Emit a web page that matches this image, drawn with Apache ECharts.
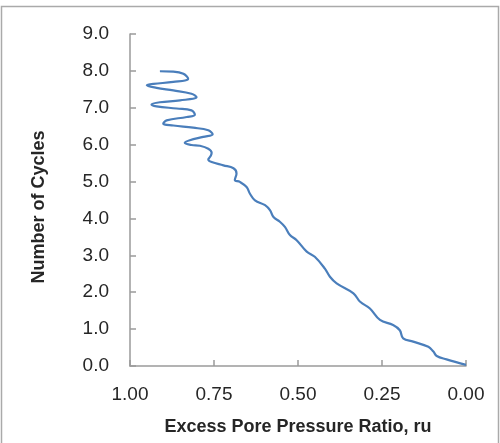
<!DOCTYPE html>
<html>
<head>
<meta charset="utf-8">
<script src="https://cdn.jsdelivr.net/npm/echarts@6/dist/echarts.min.js"></script>
<style>html,body{margin:0;padding:0;background:#fff;}#c{width:500px;height:443px;}</style>
</head>
<body>
<div id="c"></div>
<script>
// Excess pore pressure ratio (ru) values along the curve
var ruValues = [0.000,0.058,0.087,0.097,0.112,0.157,0.187,0.197,0.217,0.256,0.286,0.315,0.335,0.385,0.405,0.420,0.450,0.474,0.504,0.524,0.539,0.554,0.573,0.583,0.598,0.628,0.643,0.653,0.673,0.688,0.683,0.692,0.722,0.757,0.767,0.760,0.757,0.767,0.792,0.817,0.837,0.822,0.782,0.754,0.767,0.812,0.871,0.901,0.891,0.831,0.807,0.817,0.861,0.921,0.936,0.911,0.851,0.802,0.817,0.871,0.921,0.950,0.930,0.871,0.827,0.841,0.871,0.911];
// Number of cycles values along the curve
var cycleValues = [0.03,0.18,0.27,0.39,0.52,0.66,0.75,0.97,1.11,1.25,1.56,1.74,1.97,2.24,2.42,2.64,2.96,3.10,3.41,3.55,3.77,3.91,4.04,4.22,4.36,4.49,4.67,4.85,4.99,5.04,5.22,5.36,5.44,5.53,5.60,5.69,5.78,5.89,5.97,5.99,6.05,6.12,6.21,6.28,6.39,6.46,6.52,6.57,6.66,6.75,6.81,6.93,6.98,7.04,7.09,7.15,7.20,7.29,7.38,7.47,7.54,7.61,7.65,7.70,7.79,7.92,7.98,7.99];
var xTickLabels = ['0.00','0.25','0.50','0.75','1.00'];
var yTickLabels = ['0.0','1.0','2.0','3.0','4.0','5.0','6.0','7.0','8.0','9.0'];

var data = ruValues.map(function(v,i){return [v, cycleValues[i]];});
var chart = echarts.init(document.getElementById('c'), null, {renderer:'canvas'});
var axisCol = '#9a9a9a';
var txtCol = '#262626';
chart.setOption({
  animation:false,
  backgroundColor:'#ffffff',
  grid:{left:130, right:34, top:34, bottom:77},
  graphic:[{type:'rect', shape:{x:1.5,y:6.5,width:497,height:440}, style:{fill:'none', stroke:'#aaaaaa', lineWidth:1.5}, z:-1}],
  xAxis:{
    type:'value', min:0, max:1, interval:0.25, inverse:true,
    name:'Excess Pore Pressure Ratio, ru', nameLocation:'middle', nameGap:52,
    nameTextStyle:{fontFamily:'Liberation Sans', fontSize:18, fontWeight:'bold', color:txtCol},
    axisLine:{show:true, onZero:false, lineStyle:{color:axisCol, width:1.5}},
    axisTick:{show:true, inside:true, length:6, lineStyle:{color:axisCol, width:1.5}},
    axisLabel:{margin:19, fontFamily:'Liberation Sans', fontSize:19, color:txtCol,
      formatter:function(v){var i=Math.round(v/0.25);return xTickLabels[i];}},
    splitLine:{show:false}
  },
  yAxis:{
    type:'value', min:0, max:9, interval:1, position:'left',
    name:'Number of Cycles', nameLocation:'middle', nameGap:82, nameRotate:90,
    nameTextStyle:{fontFamily:'Liberation Sans', fontSize:18, fontWeight:'bold', color:txtCol, padding:[0,14,0,0]},
    axisLine:{show:true, onZero:false, lineStyle:{color:axisCol, width:1.5}},
    axisTick:{show:true, inside:true, length:6, lineStyle:{color:axisCol, width:1.5}},
    axisLabel:{margin:21, fontFamily:'Liberation Sans', fontSize:19, color:txtCol,
      formatter:function(v){return yTickLabels[Math.round(v)];}},
    splitLine:{show:false}
  },
  series:[{
    type:'line', data:data, smooth:0.4, showSymbol:false, symbol:'none',
    lineStyle:{color:'#4a7ebb', width:2.2}
  }]
});
</script>
</body>
</html>
